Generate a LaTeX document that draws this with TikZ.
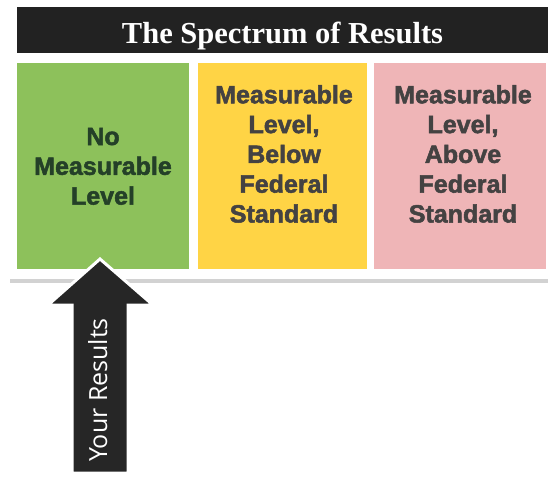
\documentclass[tikz,border=0pt]{standalone}
\usepackage{fontspec}
\setmainfont{Liberation Serif}
\newfontfamily\boxfont{Liberation Sans Bold}[FakeBold=2]
\newfontfamily\arrowfont{Open Sans}
\usepackage{tikz}
\usetikzlibrary{calc, positioning}
\definecolor{barblack}{RGB}{34,34,34}
\definecolor{arrowblack}{RGB}{38,38,38}
\definecolor{boxgreen}{RGB}{141,193,91}
\definecolor{boxyellow}{RGB}{255,212,69}
\definecolor{boxpink}{RGB}{239,181,183}
\definecolor{textgray}{RGB}{68,66,66}
\definecolor{textgreen}{RGB}{36,64,40}
\tikzset{>=latex}

\begin{document}
\begin{tikzpicture}
[x=1pt, y=-1pt,
box/.style={minimum height=206pt, inner sep=0pt, outer sep=0pt},
boxtext/.style={anchor=base, text width=165pt, align=center, text=textgray, font=\boxfont\fontsize{25}{29.8}\selectfont}]
\useasboundingbox (0,0) rectangle (548,487);
% title bar
\node[fill=barblack, minimum width=531pt, minimum height=46pt, inner sep=0pt] (bar) at (282.5,30) {};
\node[anchor=base, text=white, font=\bfseries\fontsize{30.5}{36}\selectfont] (title) at (282.5,43.3) {The Spectrum of Results};
% the three boxes
\node[box, fill=boxgreen, minimum width=172pt] (nolevel) at (103,166) {};
\node[box, fill=boxyellow, minimum width=169pt] (below) at (282.5,166) {};
\node[box, fill=boxpink, minimum width=172pt] (above) at (460,166) {};
\node[boxtext, text=textgreen] (nolevel text) at (103,145) {No\\Measurable\\Level};
\node[boxtext] (below text) at (284,103.3) {Measurable\\Level,\\Below\\Federal\\Standard};
\node[boxtext] (above text) at (463,103.3) {Measurable\\Level,\\Above\\Federal\\Standard};
\draw[gray!35, line width=4.5pt] (10,281) -- (548,281);
% arrow
\draw[fill=arrowblack, draw=white, line width=3pt, line join=miter]
(100,259) -- (153,305) -- (128,305) -- (128,473) -- (72,473) -- (72,305) -- (48,305) -- cycle;
\node[rotate=90, anchor=base, text=white, font=\arrowfont\fontsize{25}{30}\selectfont] (yourresults) at (107,390) {Your Results};
\end{tikzpicture}
\end{document}
